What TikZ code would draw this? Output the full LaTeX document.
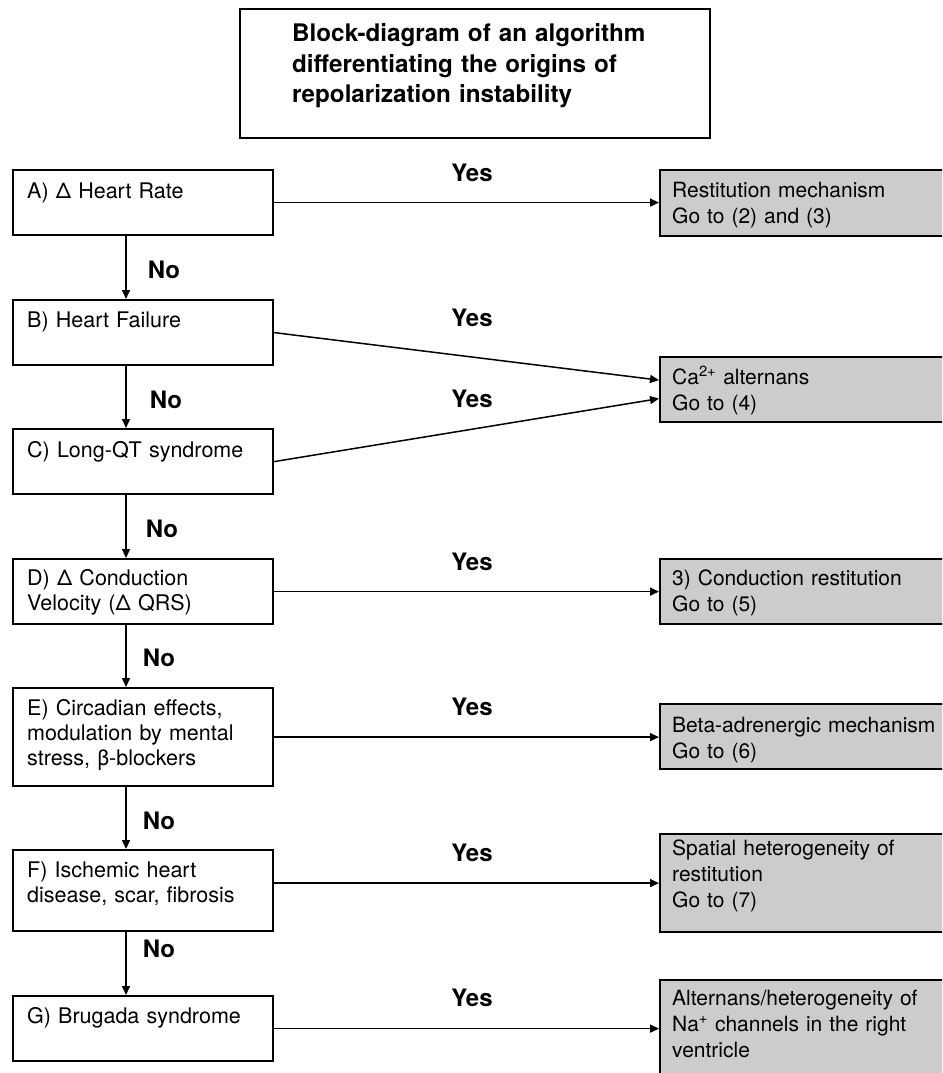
\documentclass[tikz,border=0pt]{standalone}
\usepackage{fontspec}
\setmainfont{TeX Gyre Heros}
\usetikzlibrary{arrows.meta,calc}
\definecolor{boxgray}{HTML}{CCCCCC}
\begin{document}
\begin{tikzpicture}[x=1pt,y=-1pt,
  qbox/.style={draw=black, line width=2.2pt, minimum width=260pt, inner sep=0pt, anchor=north west},
  abox/.style={draw=black, fill=boxgray, line width=2.2pt, minimum width=285pt, inner sep=0pt, anchor=north west},
  txt/.style={font=\fontsize{21.5}{25}\selectfont, anchor=base west, inner sep=0pt, align=left, text width=255pt},
  rtxt/.style={font=\fontsize{21}{26}\selectfont, anchor=base west, inner sep=0pt, align=left, text width=300pt},
  lab/.style={font=\fontsize{24}{28}\selectfont\bfseries, inner sep=0pt},
  arr/.style={line width=1.5pt, -{Triangle[length=9pt,width=8pt]}},
]
\useasboundingbox (0,0) rectangle (942,1073);
\clip (0,0) rectangle (942,1073);

% title
\node[draw=black, line width=2.2pt, anchor=north west, minimum width=470pt, minimum height=129pt, inner sep=0pt] (T) at (239,8) {};
\node[font=\fontsize{24.2}{30}\selectfont\bfseries, anchor=base west, align=left, text width=410pt, inner sep=0pt] (Tt) at (292,42)
  {Block-diagram of an algorithm\\differentiating the origins of\\repolarization instability};

% question boxes
\node[qbox, minimum height=65pt] (A) at (12,169) {};
\node[txt] (At) at ($(A.north west)+(15,29)$) {A) Δ Heart Rate};
\node[qbox, minimum height=65pt] (B) at (12,299) {};
\node[txt] (Bt) at ($(B.north west)+(15,28)$) {B) Heart Failure};
\node[qbox, minimum height=65pt] (C) at (12,428) {};
\node[txt] (Ct) at ($(C.north west)+(15,29)$) {C) Long-QT syndrome};
\node[qbox, minimum height=65pt] (D) at (12,558) {};
\node[txt] (Dt) at ($(D.north west)+(15,27)$) {D) Δ Conduction\\Velocity (Δ QRS)};
\node[qbox, minimum height=98pt] (E) at (12,687) {};
\node[txt] (Et) at ($(E.north west)+(15,28)$) {E) Circadian effects,\\modulation by mental\\stress, β-blockers};
\node[qbox, minimum height=81pt] (F) at (12,849) {};
\node[txt] (Ft) at ($(F.north west)+(15,28)$) {F) Ischemic heart\\disease, scar, fibrosis};
\node[qbox, minimum height=65pt] (G) at (12,995) {};
\node[txt] (Gt) at ($(G.north west)+(15,28)$) {G) Brugada syndrome};

% answer boxes
\node[abox, minimum height=66pt] (R1) at (659,169) {};
\node[rtxt] (R1t) at ($(R1.north west)+(13,28)$) {Restitution mechanism\\Go to (2) and (3)};
\node[abox, minimum height=65pt] (Ca) at (659,356) {};
\node[rtxt] (Cat) at ($(Ca.north west)+(13,28)$) {Ca\textsuperscript{2+} alternans\\Go to (4)};
\node[abox, minimum height=65pt] (Cd) at (659,558) {};
\node[rtxt] (Cdt) at ($(Cd.north west)+(13,27)$) {3) Conduction restitution\\Go to (5)};
\node[abox, minimum height=65pt] (Bb) at (659,703) {};
\node[rtxt] (Bbt) at ($(Bb.north west)+(13,29)$) {Beta-adrenergic mechanism\\Go to (6)};
\node[abox, minimum height=98pt] (Sp) at (659,833) {};
\node[rtxt] (Spt) at ($(Sp.north west)+(13,22)$) {Spatial heterogeneity of\\restitution\\Go to (7)};
\node[abox, minimum height=100pt] (Al) at (659,979) {};
\node[rtxt] (Alt) at ($(Al.north west)+(13,26)$) {Alternans/heterogeneity of\\Na\textsuperscript{+} channels in the right\\ventricle};

% No arrows
\draw[arr] ([xshift=114pt]A.south west) -- ([xshift=114pt]B.north west);
\draw[arr] ([xshift=114pt]B.south west) -- ([xshift=114pt]C.north west);
\draw[arr] ([xshift=114pt]C.south west) -- ([xshift=114pt]D.north west);
\draw[arr] ([xshift=114pt]D.south west) -- ([xshift=114pt]E.north west);
\draw[arr] ([xshift=114pt]E.south west) -- ([xshift=114pt]F.north west);
\draw[arr] ([xshift=114pt]F.south west) -- ([xshift=114pt]G.north west);

% Yes arrows
\draw[arr] (A.east) -- (A.east -| R1.west);
\draw[arr] (B.east) -- ([yshift=9.5pt]Ca.west);
\draw[arr] (C.east) -- ([yshift=-9pt]Ca.west);
\draw[arr] (D.east) -- (D.east -| Cd.west);
\draw[arr] (E.east) -- (E.east -| Bb.west);
\draw[arr] (F.east |- Sp.west) -- (Sp.west);
\draw[arr] (G.east) -- (G.east -| Al.west);

% labels
\node[lab] (n1) at (164,270) {No};
\node[lab] (n2) at (166,400) {No};
\node[lab] (n3) at (162,529) {No};
\node[lab] (n4) at (159,658) {No};
\node[lab] (n5) at (159,821) {No};
\node[lab] (n6) at (159,949) {No};
\node[lab] (y1) at (472,173) {Yes};
\node[lab] (y2) at (472,318) {Yes};
\node[lab] (y3) at (472,399) {Yes};
\node[lab] (y4) at (472,562) {Yes};
\node[lab] (y5) at (472,707) {Yes};
\node[lab] (y6) at (472,853) {Yes};
\node[lab] (y7) at (472,998) {Yes};
\end{tikzpicture}
\end{document}
